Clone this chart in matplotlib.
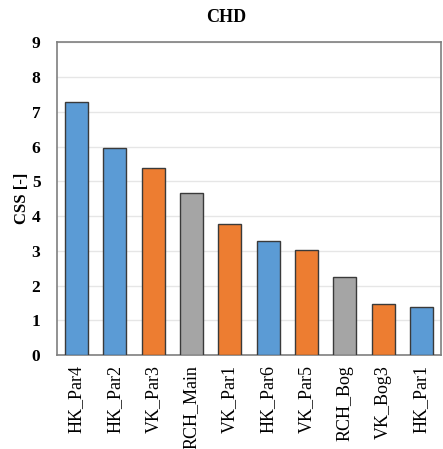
import matplotlib
matplotlib.use("Agg")
import matplotlib.pyplot as plt

categories = ["HK_Par4", "HK_Par2", "VK_Par3", "RCH_Main", "VK_Par1",
              "HK_Par6", "VK_Par5", "RCH_Bog", "VK_Bog3", "HK_Par1"]
values = [7.28, 5.95, 5.38, 4.65, 3.78, 3.27, 3.02, 2.24, 1.46, 1.38]
groups = ["HK", "HK", "VK", "RCH", "VK", "HK", "VK", "RCH", "VK", "HK"]
palette = {"HK": "#5B9BD5", "VK": "#ED7D31", "RCH": "#A5A5A5"}
yticks = list(range(0, 10))

plt.rcParams["font.family"] = ["Liberation Serif", "DejaVu Serif"]

fig = plt.figure(figsize=(4.43, 4.49), dpi=100)
ax = fig.add_axes([0.129, 0.209, 0.866, 0.697])

x = range(len(categories))
ax.bar(x, values, width=0.6, color=[palette[g] for g in groups],
       edgecolor="#3a3a3a", linewidth=1.0, zorder=3)

ax.set_xlim(-0.5, len(categories) - 0.5)
ax.set_ylim(0, 9)
ax.set_yticks(yticks)
ax.set_xticks(list(x))
ax.set_xticklabels(categories, rotation=90, fontsize=13)
ax.tick_params(axis="y", labelsize=12.5, length=0, pad=12)
ax.tick_params(axis="x", length=0, pad=7)
for lbl in ax.get_yticklabels():
    lbl.set_fontweight("bold")
ax.yaxis.grid(True, color="#e6e6e6", linewidth=1.0, zorder=0)
for s in ax.spines.values():
    s.set_color("#7f7f7f")
    s.set_linewidth(1.2)

ax.set_ylabel("CSS [-]", fontsize=12, fontweight="bold", labelpad=1)
fig.text(0.51, 0.962, "CHD", ha="center", va="center", fontsize=13, fontweight="bold")

fig.savefig("out.png", dpi=100)
